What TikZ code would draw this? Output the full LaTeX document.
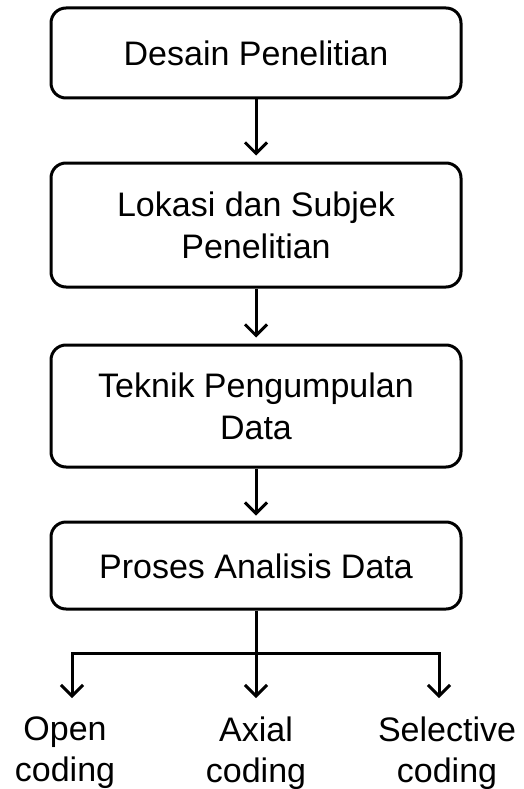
\documentclass[tikz,border=0pt]{standalone}
\usepackage{fontspec}
\setmainfont{Liberation Sans}
\usetikzlibrary{arrows.meta}
\begin{document}
\begin{tikzpicture}[x=1pt,y=1pt,
  box/.style={draw=black, line width=3pt, rounded corners=15pt, minimum width=410pt,
    align=center, inner sep=0pt, font=\fontsize{34}{42}\selectfont},
  lbl/.style={align=center, inner sep=0pt, anchor=north, font=\fontsize{34}{41}\selectfont},
  arr/.style={line width=3pt, -{Straight Barb[length=11pt,width=22pt]}},
  ln/.style={line width=3pt}]
\useasboundingbox (0,0) rectangle (524,-789);
\fill[white] (0,0) rectangle (524,-789);
\node[box, minimum height=90pt] (b1) at (256,-53) {Desain Penelitian};
\node[box, minimum height=124pt] (b2) at (256,-225) {Lokasi dan Subjek\\Penelitian};
\node[box, minimum height=122pt] (b3) at (256,-406) {Teknik Pengumpulan\\Data};
\node[box, minimum height=87pt, text height=32pt, text depth=7pt] (b4) at (256,-565.5) {Proses Analisis Data};
\node[lbl] (l1) at (65,-717) {Open\\coding};
\node[lbl] (l2) at (256,-717) {Axial\\coding};
\node[lbl] (l3) at (447,-717) {Selective\\coding};
\draw[arr, shorten >=6pt] (b1) -- (b2);
\draw[arr, shorten >=6pt] (b2) -- (b3);
\draw[arr, shorten >=5pt] (b3) -- (b4);
\coordinate (j) at (256,-653);
\coordinate (jl) at (72,-653);
\coordinate (jr) at (439,-653);
\draw[ln] (b4.south) -- (j);
\draw[ln, line cap=rect] (jl) -- (jr);
\draw[arr, shorten >=19pt] (jl) -- (jl |- l1.north);
\draw[arr, shorten >=19pt] (j) -- (j |- l2.north);
\draw[arr, shorten >=19pt] (jr) -- (jr |- l3.north);
\end{tikzpicture}
\end{document}
